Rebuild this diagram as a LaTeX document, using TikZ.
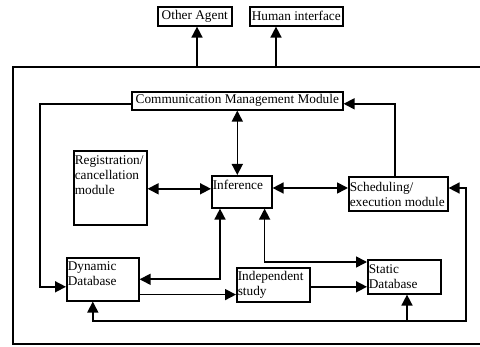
\documentclass[tikz,border=0pt]{standalone}
\usepackage{fontspec}
\setmainfont{Liberation Serif}
\usetikzlibrary{arrows.meta}
\begin{document}
\begin{tikzpicture}[x=1pt,y=-1pt,line width=1.6pt,
  box/.style={draw, inner sep=0pt, anchor=north west, font=\fontsize{13.3}{15}\selectfont},
  lbl/.style={anchor=north west, inner sep=1pt, align=left, font=\fontsize{13.3}{15}\selectfont},
  arr/.style={-{Triangle[length=11pt,width=11pt]}},
  darr/.style={{Triangle[length=11pt,width=11pt]}-{Triangle[length=11pt,width=11pt]}}]
\useasboundingbox (0,0) rectangle (480,347);
% outer frame
\coordinate (otr) at (481,67);
\coordinate (otl) at (13,67);
\coordinate (obl) at (13,344);
\coordinate (obr) at (481,344);
\draw (otr) -- (otl) -- (obl) -- (obr);
% boxes
\node[box, minimum width=74pt, minimum height=19pt] (oa) at (157,6) {Other Agent};
\node[box, minimum width=93pt, minimum height=19pt] (hi) at (249,6) {Human interface};
\node[box, minimum width=211pt, minimum height=18pt] (cm) at (131,91) {Communication Management Module};
\node[box, minimum width=73pt, minimum height=74pt] (reg) at (73,150) {};
\node[box, minimum width=60pt, minimum height=32pt] (inf) at (211,175) {};
\node[box, minimum width=99pt, minimum height=34pt] (sch) at (348,176) {};
\node[box, minimum width=72pt, minimum height=43pt] (dyn) at (66,257) {};
\node[box, minimum width=73pt, minimum height=34pt] (ind) at (236,267) {};
\node[box, minimum width=73pt, minimum height=34pt] (sta) at (367,259) {};
% labels
\node[lbl] (regt) at ([shift={(0,4)}]reg.north west) {Registration/\\cancellation\\module};
\node[lbl] (inft) at ([shift={(0,3)}]inf.north west) {Inference};
\node[lbl] (scht) at ([shift={(0,4)}]sch.north west) {Scheduling/\\execution module};
\node[lbl] (dynt) at ([shift={(0,2.5)}]dyn.north west) {Dynamic\\Database};
\node[lbl] (indt) at ([shift={(0,2.5)}]ind.north west) {Independent\\study};
\node[lbl] (stat) at ([shift={(0,4)}]sta.north west) {Static\\Database};
% connectors
\coordinate (a1) at ([xshift=40pt]oa.south west);
\coordinate (a2) at ([xshift=27pt]hi.south west);
\draw[arr] (otl -| a1) -- (a1);
\draw[arr] (otl -| a2) -- (a2);
\draw[arr] ([yshift=-3pt]cm.west) -| ([xshift=-26pt,yshift=-7.5pt]dyn.west) -- ([yshift=-7.5pt]dyn.west);
\draw[arr] ([xshift=-3.5pt]sch.north) |- ([yshift=-3pt]cm.east);
\draw[darr] (cm.south) -- (cm.south |- inf.north);
\draw[darr] ([yshift=-1pt]reg.east) -- ([yshift=-1pt]reg.east -| inf.west);
\coordinate (p) at (300,188);
\draw[darr] (inf.east |- p) -- (sch.west |- p);
\draw[darr] (dyn.east) -| ([xshift=9pt]inf.south west);
\draw[darr] ([yshift=-3pt]sta.north west) -| ([xshift=-8pt]inf.south east);
\draw[arr] ([yshift=7pt]dyn.south east) -- ([yshift=7pt]dyn.south east -| ind.west);
\draw[arr] ([yshift=-2pt]ind.east) -- ([yshift=-2pt]ind.east -| sta.west);
\coordinate (q1) at (466,321);
\coordinate (q2) at (407,321);
\draw[darr] ([xshift=-10pt]dyn.south) |- (q1) |- (sch.east |- p);
\draw[arr] (q2) -- (sta.south -| q2);
\end{tikzpicture}
\end{document}
